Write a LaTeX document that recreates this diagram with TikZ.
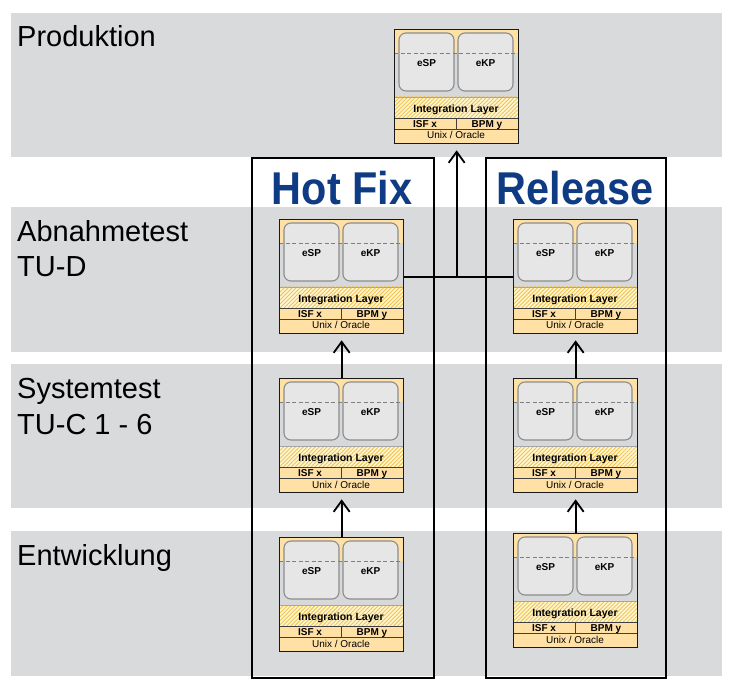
\documentclass[tikz,border=0pt]{standalone}
\usepackage{fontspec}
\setmainfont{Liberation Sans}
\usetikzlibrary{arrows.meta,patterns.meta}
\definecolor{bandgray}{HTML}{D9DADC}
\definecolor{orfill}{HTML}{FFE1A6}
\definecolor{ingray}{HTML}{D7D8DA}
\definecolor{rrfill}{HTML}{E6E6E6}
\definecolor{rrdraw}{HTML}{8C8C8C}
\definecolor{dashc}{HTML}{7F7F7F}
\definecolor{hatchbg}{HTML}{FFF6D5}
\definecolor{hatchc}{HTML}{F2C44E}
\definecolor{titleblue}{HTML}{0E3B83}
\begin{document}
\begin{tikzpicture}[x=1pt,y=-1pt,
  bandlbl/.style={anchor=base west,inner sep=0pt,font=\fontsize{29}{34}\selectfont},
  titlelbl/.style={anchor=base,inner sep=0pt,text=titleblue,font=\fontsize{46}{50}\selectfont\bfseries},
  framebox/.style={draw,line width=2pt,anchor=north west,inner sep=0pt},
  blbl/.style={anchor=base,inner sep=0pt,font=\fontsize{10}{12}\selectfont\bfseries},
  rlbl/.style={anchor=base,inner sep=0pt,font=\fontsize{10}{12}\selectfont},
  rbox/.style={fill=rrfill,draw=rrdraw,line width=1.1pt,rounded corners=7pt},
  dashline/.style={draw=dashc,line width=0.9pt,dash pattern=on 4pt off 2.5pt},
  sepline/.style={draw=black!75,line width=0.8pt},
  stackframe/.style={draw=black!90,line width=1.3pt,anchor=north west,inner sep=0pt,
    minimum width=124pt,minimum height=114pt},
  conn/.style={line width=1.8pt},
  arr/.style={line width=1.8pt,-{Straight Barb[length=11pt,width=16pt,line width=1.8pt]},shorten >=6pt},
  stack/.pic={
    \fill[orfill] (0,0) rectangle (124,24);
    \fill[ingray] (0,24) rectangle (124,68);
    \draw[rbox] (5,4) rectangle (60,62);
    \draw[rbox] (64,4) rectangle (119,62);
    \draw[dashline] (0,24) -- (124,24);
    \node[blbl] (-esp) at (32.5,37.7) {eSP};
    \node[blbl] (-ekp) at (91.5,37.7) {eKP};
    \fill[hatchbg] (0,68) rectangle (124,89);
    \fill[pattern={Lines[angle=45,distance=2.8pt,line width=0.9pt]},pattern color=hatchc] (0,68) rectangle (124,89);
    \fill[orfill] (0,89) rectangle (124,114);
    \draw[draw=black!35,line width=0.6pt] (0,68) -- (124,68);
    \draw[sepline] (0,89) -- (124,89) (0,100) -- (124,100) (62,89) -- (62,100);
    \node[blbl,font=\fontsize{10.5}{12}\selectfont\bfseries] (-il) at (62,83.3) {Integration Layer};
    \node[blbl] (-isf) at (31,98.3) {ISF x};
    \node[blbl] (-bpm) at (93,98.3) {BPM y};
    \node[rlbl] (-os) at (62,110) {Unix / Oracle};
    \node[stackframe] (-box) at (0,0) {};
  }]
\useasboundingbox (0,0) rectangle (737,687);
% bands
\fill[bandgray] (11,13) rectangle (722,157);
\fill[bandgray] (11,207) rectangle (722,352);
\fill[bandgray] (11,364) rectangle (722,508);
\fill[bandgray] (11,531) rectangle (722,676);
% band labels
\node[bandlbl] (lP) at (17,47) {Produktion};
\node[bandlbl] (lA1) at (17,242) {Abnahmetest};
\node[bandlbl] (lA2) at (17,277) {TU-D};
\node[bandlbl] (lS1) at (17,399) {Systemtest};
\node[bandlbl] (lS2) at (17,434) {TU-C 1 - 6};
\node[bandlbl] (lE) at (17,565) {Entwicklung};
% frames
\node[framebox,minimum width=182pt,minimum height=520pt] (hf) at (251,157) {};
\node[framebox,minimum width=180pt,minimum height=520pt] (rf) at (485,157) {};
\node[titlelbl] (thf) at (342,205) {\scalebox{0.9}[1]{Hot Fix}};
\node[titlelbl] (trf) at (575,205) {\scalebox{0.9}[1]{Release}};
% stacks
\pic (P) at (394,29) {stack};
\pic (hA) at (279,219) {stack};
\pic (rA) at (513,219) {stack};
\pic (hS) at (279,378) {stack};
\pic (rS) at (513,378) {stack};
\pic (hE) at (279,537) {stack};
\pic (rE) at (513,533) {stack};
% connectors
\draw[arr] (hE-box.north) -- (hS-box.south);
\draw[arr] (hS-box.north) -- (hA-box.south);
\draw[arr] (rE-box.north) -- (rS-box.south);
\draw[arr] (rS-box.north) -- (rA-box.south);
\draw[conn] (hA-box.east) -- (rA-box.west);
\draw[arr] (P-box.south |- hA-box.east) -- (P-box.south);
\end{tikzpicture}
\end{document}
